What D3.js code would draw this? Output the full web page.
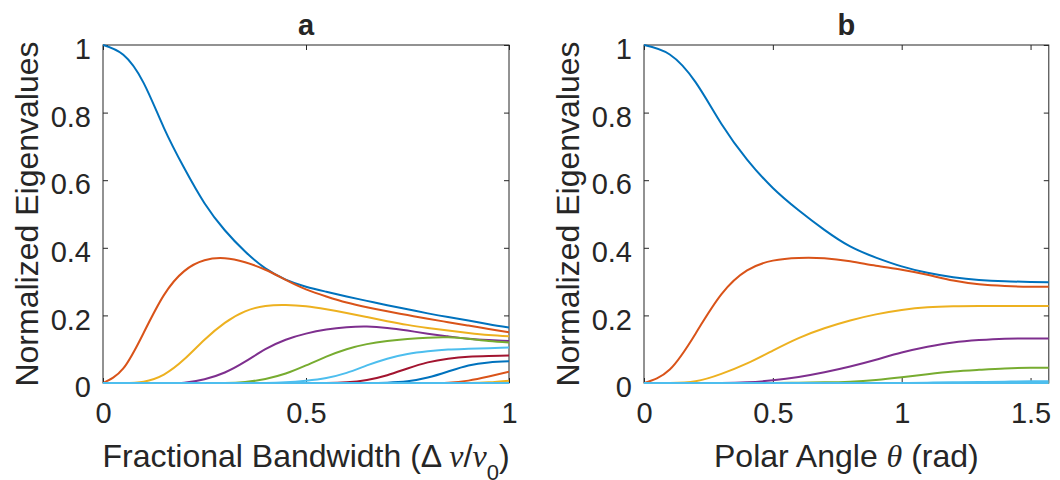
<!DOCTYPE html>
<html>
<head>
<meta charset="utf-8">
<script src="https://cdn.jsdelivr.net/npm/d3@7"></script>
<style>
  html, body { margin: 0; padding: 0; background: #fff; }
  svg { display: block; }
  text { font-family: "Liberation Sans", Arial, Helvetica, sans-serif; fill: #262626; }
</style>
</head>
<body>
<svg id="fig" width="1060" height="480"></svg>
<script>
// ---- Panel a: eigenvalues vs fractional bandwidth ----
const bandwidth = [0, 0.05, 0.1, 0.15, 0.2, 0.25, 0.3, 0.35, 0.4, 0.45, 0.5,
                   0.55, 0.6, 0.65, 0.7, 0.75, 0.8, 0.85, 0.9, 0.95, 1.0];
const bwMode1  = [1.0, 0.971, 0.888, 0.755, 0.636, 0.532, 0.452, 0.389, 0.339, 0.306, 0.285,
                  0.27, 0.256, 0.243, 0.23, 0.218, 0.206, 0.195, 0.185, 0.174, 0.164];
const bwMode2  = [0, 0.043, 0.148, 0.26, 0.331, 0.363, 0.369, 0.357, 0.335, 0.305, 0.277,
                  0.256, 0.238, 0.224, 0.212, 0.201, 0.19, 0.18, 0.17, 0.16, 0.15];
const bwMode3  = [0, 0, 0.004, 0.025, 0.07, 0.128, 0.178, 0.212, 0.228, 0.231, 0.227,
                  0.218, 0.207, 0.195, 0.183, 0.172, 0.163, 0.155, 0.148, 0.142, 0.138];
const bwMode4  = [0, 0, 0, 0, 0.001, 0.011, 0.031, 0.063, 0.1, 0.128, 0.146,
                  0.158, 0.165, 0.167, 0.163, 0.155, 0.146, 0.138, 0.131, 0.127, 0.124];
const bwMode5  = [0, 0, 0, 0, 0, 0, 0, 0.003, 0.012, 0.028, 0.052,
                  0.078, 0.1, 0.115, 0.124, 0.13, 0.134, 0.135, 0.131, 0.124, 0.12];
const bwMode6  = [0, 0, 0, 0, 0, 0, 0, 0, 0, 0.002, 0.007,
                  0.015, 0.03, 0.052, 0.072, 0.086, 0.094, 0.099, 0.101, 0.103, 0.105];
const bwMode7  = [0, 0, 0, 0, 0, 0, 0, 0, 0, 0, 0,
                  0, 0.002, 0.009, 0.023, 0.043, 0.061, 0.072, 0.078, 0.08, 0.081];
const bwMode8  = [0, 0, 0, 0, 0, 0, 0, 0, 0, 0, 0,
                  0, 0, 0, 0.001, 0.005, 0.016, 0.034, 0.052, 0.061, 0.064];
const bwMode9  = [0, 0, 0, 0, 0, 0, 0, 0, 0, 0, 0,
                  0, 0, 0, 0, 0, 0, 0.001, 0.007, 0.019, 0.033];
const bwMode10 = [0, 0, 0, 0, 0, 0, 0, 0, 0, 0, 0,
                  0, 0, 0, 0, 0, 0, 0, 0, 0.002, 0.007];
const bwMode11 = [0, 0, 0, 0, 0, 0, 0, 0, 0, 0, 0, 0, 0, 0, 0, 0, 0, 0, 0, 0, 0];
const bwMode12 = [0, 0, 0, 0, 0, 0, 0, 0, 0, 0, 0, 0, 0, 0, 0, 0, 0, 0, 0, 0, 0];
const bwMode13 = [0, 0, 0, 0, 0, 0, 0, 0, 0, 0, 0, 0, 0, 0, 0, 0, 0, 0, 0, 0, 0];

// ---- Panel b: eigenvalues vs polar angle ----
const polarAngle = [0, 0.1, 0.2, 0.3, 0.4, 0.5, 0.6, 0.7, 0.8, 0.9, 1.0,
                    1.1, 1.2, 1.3, 1.4, 1.5, 1.5708];
const paMode1  = [1.0, 0.972, 0.89, 0.767, 0.661, 0.577, 0.511, 0.453, 0.404, 0.371, 0.345,
                  0.326, 0.313, 0.305, 0.301, 0.299, 0.298];
const paMode2  = [0, 0.04, 0.146, 0.262, 0.333, 0.362, 0.37, 0.369, 0.36, 0.347, 0.335,
                  0.32, 0.303, 0.292, 0.287, 0.285, 0.285];
const paMode3  = [0, 0, 0.005, 0.027, 0.058, 0.096, 0.133, 0.162, 0.185, 0.203, 0.216,
                  0.224, 0.227, 0.228, 0.228, 0.228, 0.228];
const paMode4  = [0, 0, 0, 0, 0.002, 0.008, 0.018, 0.032, 0.049, 0.069, 0.09,
                  0.107, 0.12, 0.127, 0.131, 0.132, 0.132];
const paMode5  = [0, 0, 0, 0, 0, 0, 0.001, 0.002, 0.004, 0.009, 0.017,
                  0.026, 0.034, 0.039, 0.043, 0.045, 0.045];
const paMode6  = [0, 0, 0, 0, 0, 0, 0, 0, 0, 0, 0,
                  0.001, 0.002, 0.003, 0.004, 0.005, 0.005];
const paMode7  = [0, 0, 0, 0, 0, 0, 0, 0, 0, 0, 0, 0, 0, 0, 0, 0, 0];
const paMode8  = [0, 0, 0, 0, 0, 0, 0, 0, 0, 0, 0, 0, 0, 0, 0, 0, 0];
const paMode9  = [0, 0, 0, 0, 0, 0, 0, 0, 0, 0, 0, 0, 0, 0, 0, 0, 0];
const paMode10 = [0, 0, 0, 0, 0, 0, 0, 0, 0, 0, 0, 0, 0, 0, 0, 0, 0];
const paMode11 = [0, 0, 0, 0, 0, 0, 0, 0, 0, 0, 0, 0, 0, 0, 0, 0, 0];
const paMode12 = [0, 0, 0, 0, 0, 0, 0, 0, 0, 0, 0, 0, 0, 0, 0, 0, 0];
const paMode13 = [0, 0, 0, 0, 0, 0, 0, 0, 0, 0, 0, 0, 0, 0, 0, 0, 0];

const yTicks = [0, 0.2, 0.4, 0.6, 0.8, 1];
const bwTicks = [0, 0.5, 1];
const paTicks = [0, 0.5, 1, 1.5];

// MATLAB default line colour order
const lineColors = ["#0072BD", "#D95319", "#EDB120", "#7E2F8E", "#77AC30", "#4DBEEE", "#A2142F"];

const bwModes = [bwMode1, bwMode2, bwMode3, bwMode4, bwMode5, bwMode6, bwMode7,
                 bwMode8, bwMode9, bwMode10, bwMode11, bwMode12, bwMode13];
const paModes = [paMode1, paMode2, paMode3, paMode4, paMode5, paMode6, paMode7,
                 paMode8, paMode9, paMode10, paMode11, paMode12, paMode13];

const svg = d3.select("#fig");
const axisColor = "#262626";
const tickFont = 29;
const labelFont = 32;

function drawPanel(opts) {
  const { left, right, top, bottom, xDomain, xTicks, xs, modes, title, id, xLabel } = opts;
  const x = d3.scaleLinear().domain(xDomain).range([left, right]);
  const y = d3.scaleLinear().domain([0, 1]).range([bottom, top]);
  const g = svg.append("g");

  // box
  g.append("rect")
    .attr("x", left).attr("y", top)
    .attr("width", right - left).attr("height", bottom - top)
    .attr("fill", "none").attr("stroke", axisColor).attr("stroke-width", 1);

  const fmt = d => String(d);

  const bottomAxis = g.append("g").attr("transform", `translate(0,${bottom})`)
    .call(d3.axisBottom(x).tickValues(xTicks).tickFormat(fmt).tickSizeInner(-5).tickSizeOuter(0).tickPadding(19.5));
  const topAxis = g.append("g").attr("transform", `translate(0,${top})`)
    .call(d3.axisTop(x).tickValues(xTicks).tickFormat("").tickSizeInner(-5).tickSizeOuter(0));
  const leftAxis = g.append("g").attr("transform", `translate(${left},0)`)
    .call(d3.axisLeft(y).tickValues(yTicks).tickFormat(fmt).tickSizeInner(-5).tickSizeOuter(0).tickPadding(12));
  const rightAxis = g.append("g").attr("transform", `translate(${right},0)`)
    .call(d3.axisRight(y).tickValues(yTicks).tickFormat("").tickSizeInner(-5).tickSizeOuter(0));

  [bottomAxis, topAxis, leftAxis, rightAxis].forEach(a => {
    a.select(".domain").remove();
    a.selectAll(".tick line").attr("stroke", axisColor);
    a.selectAll(".tick text")
      .attr("fill", axisColor)
      .style("font-family", '"Liberation Sans", Arial, sans-serif')
      .style("font-size", tickFont + "px");
  });
  leftAxis.selectAll(".tick text").attr("dy", "0.47em");

  // clip curves to the axes box (a little slack so the zero line keeps its full width)
  g.append("clipPath").attr("id", id)
    .append("rect").attr("x", left).attr("y", top - 2)
    .attr("width", right - left).attr("height", bottom - top + 4);

  const line = d3.line()
    .x((d, i) => x(xs[i]))
    .y(d => y(d))
    .curve(d3.curveNatural);

  g.append("g").attr("clip-path", `url(#${id})`)
    .selectAll("path").data(modes).join("path")
    .attr("d", line)
    .attr("fill", "none")
    .attr("stroke", (d, i) => lineColors[i % lineColors.length])
    .attr("stroke-width", 2)
    .attr("stroke-linejoin", "round");

  // title
  g.append("text")
    .attr("x", (left + right) / 2).attr("y", 35)
    .attr("text-anchor", "middle")
    .style("font-size", "29px").style("font-weight", "bold")
    .text(title);

  // y label
  g.append("text")
    .attr("transform", `translate(${left - 65},${(top + bottom) / 2}) rotate(-90)`)
    .attr("text-anchor", "middle")
    .style("font-size", labelFont + "px")
    .text("Normalized Eigenvalues");

  // x label
  const xl = g.append("text")
    .attr("x", (left + right) / 2).attr("y", 467)
    .attr("text-anchor", "middle")
    .style("font-size", labelFont + "px");
  xLabel(xl);
}

const italicSerif = '"Liberation Serif", "DejaVu Serif", serif';

drawPanel({
  left: 103, right: 509, top: 45, bottom: 383,
  xDomain: [0, 1], xTicks: bwTicks, xs: bandwidth, modes: bwModes,
  title: "a", id: "clipA",
  xLabel: t => {
    t.append("tspan").text("Fractional Bandwidth (\u0394 ");
    t.append("tspan").style("font-family", italicSerif).style("font-style", "italic").text("\u03BD");
    t.append("tspan").text("/");
    t.append("tspan").style("font-family", italicSerif).style("font-style", "italic").text("\u03BD");
    t.append("tspan").attr("dy", 13).style("font-size", "22px").text("0");
    t.append("tspan").attr("dy", -13).text(")");
  }
});

drawPanel({
  left: 644, right: 644 + 257.7 * Math.PI / 2, top: 45, bottom: 383,
  xDomain: [0, Math.PI / 2], xTicks: paTicks, xs: polarAngle, modes: paModes,
  title: "b", id: "clipB",
  xLabel: t => {
    t.append("tspan").text("Polar Angle ");
    t.append("tspan").style("font-family", italicSerif).style("font-style", "italic").text("\u03B8");
    t.append("tspan").text(" (rad)");
  }
});
</script>
</body>
</html>
